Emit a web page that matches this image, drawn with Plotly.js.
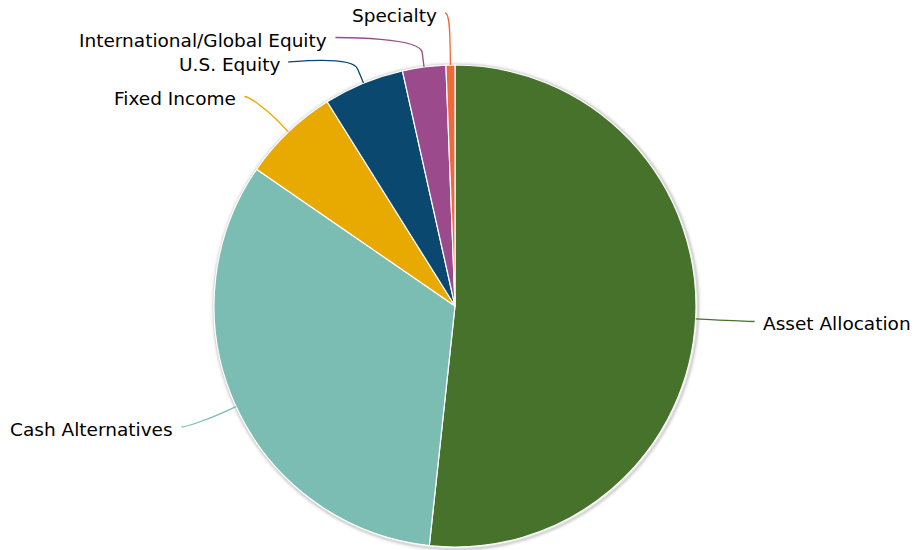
<!DOCTYPE html>
<html><head><meta charset="utf-8">
<script src="https://cdn.plot.ly/plotly-3.0.1.min.js"></script>
<style>html,body{margin:0;padding:0;background:#fff}#chart{width:916px;height:550px}</style>
</head><body><div id="chart"></div>
<script>
const labels = ['Asset Allocation','Cash Alternatives','Fixed Income','U.S. Equity','International/Global Equity','Specialty'];
const values = [51.7, 32.9, 6.5, 5.4, 2.9, 0.6];
const colors = ['#47722b','#7bbdb2','#e8a900','#0b4870','#9b4a8b','#ef6a3b'];

const W=916, H=550, CX=455, CY=306, R=241;
const LABEL_R=290, BREAK_OFF=15, GAP=24.5, TOP=13, BOTTOM=H-13, PAD=10, TEXT_GAP=7.5;
const px = x => x/W, py = y => 1 - y/H;

const total = values.reduce((a,b)=>a+b,0);
let acc = 0;
const slices = values.map((v,i)=>{
  const a0 = acc/total*2*Math.PI; acc += v; const a1 = acc/total*2*Math.PI;
  const m = (a0+a1)/2;
  return {i, s:Math.sin(m), c:Math.cos(m)};
});
slices.forEach(s=>{ s.side = s.s >= 0 ? 1 : -1; s.t = CY - LABEL_R*s.c; });

function distribute(items){
  items.sort((a,b)=>a.t-b.t);
  const cl = items.map(it=>({items:[it]}));
  const place = c => {
    const n = c.items.length;
    const mean = c.items.reduce((a,b)=>a+b.t,0)/n;
    let st = mean-(n-1)*GAP/2;
    st = Math.min(st, BOTTOM-(n-1)*GAP);
    st = Math.max(st, TOP);
    c.start = st;
  };
  cl.forEach(place);
  let merged = true;
  while(merged){
    merged = false;
    for(let k=0;k<cl.length-1;k++){
      const a=cl[k], b=cl[k+1];
      if(a.start + a.items.length*GAP > b.start){
        a.items = a.items.concat(b.items); cl.splice(k+1,1); place(a); merged = true; break;
      }
    }
  }
  cl.forEach(c=>c.items.forEach((it,j)=>{ it.y = c.start + j*GAP; }));
}
distribute(slices.filter(s=>s.side>0));
distribute(slices.filter(s=>s.side<0));

const shapes = [];
const annotations = [];
// soft shadow around the pie
[[3.5,6,0.03],[2.2,4,0.05],[1.2,2,0.08]].forEach(([dr,w,o])=>{
  shapes.push({type:'circle', xref:'paper', yref:'paper', layer:'below',
    x0:px(CX+1-R-dr+w/2-1), x1:px(CX+1+R+dr-w/2+1), y0:py(CY+1+R+dr-w/2+1), y1:py(CY+1-R-dr+w/2-1),
    line:{color:'rgba(0,0,0,'+o+')', width:w}, fillcolor:'rgba(0,0,0,0)'});
});

slices.forEach(s=>{
  const y = s.y, dy = y - CY, side = s.side;
  const dx = Math.sqrt(Math.max(0, LABEL_R*LABEL_R - dy*dy));
  const sx = CX + side*(dx + PAD);
  const tx = sx + side*TEXT_GAP;
  const touch = [CX + R*s.s, CY - R*s.c];
  const brk = [CX + (R+BREAK_OFF)*s.s, CY - (R+BREAK_OFF)*s.c];
  const p = (x,y)=> px(x).toFixed(5)+','+py(y).toFixed(5);
  const path = 'M'+p(sx,y)+' C'+p(sx-side*5,y)+' '+p(2*brk[0]-touch[0],2*brk[1]-touch[1])+' '+p(brk[0],brk[1])+' L'+p(touch[0],touch[1]);
  shapes.push({type:'path', xref:'paper', yref:'paper', path, line:{color:colors[s.i], width:1.3}});
  annotations.push({xref:'paper', yref:'paper', x:px(tx), y:py(y+2.5), xanchor: side>0?'left':'right', yanchor:'middle',
    text:labels[s.i], showarrow:false, font:{family:'DejaVu Sans', size:18.5, color:'#000'}, borderpad:0});
});

const trace = {
  type:'pie', labels, values, sort:false, direction:'clockwise', rotation:0,
  marker:{colors, line:{color:'#ffffff', width:1.2}},
  textinfo:'none', hoverinfo:'label+percent',
  domain:{x:[px(CX-R), px(CX+R)], y:[py(CY+R), py(CY-R)]},
  showlegend:false
};
Plotly.newPlot('chart', [trace], {
  width:W, height:H, margin:{l:0,r:0,t:0,b:0},
  paper_bgcolor:'#fff', plot_bgcolor:'#fff', showlegend:false,
  shapes, annotations
}, {displayModeBar:false, staticPlot:true});
</script></body></html>
